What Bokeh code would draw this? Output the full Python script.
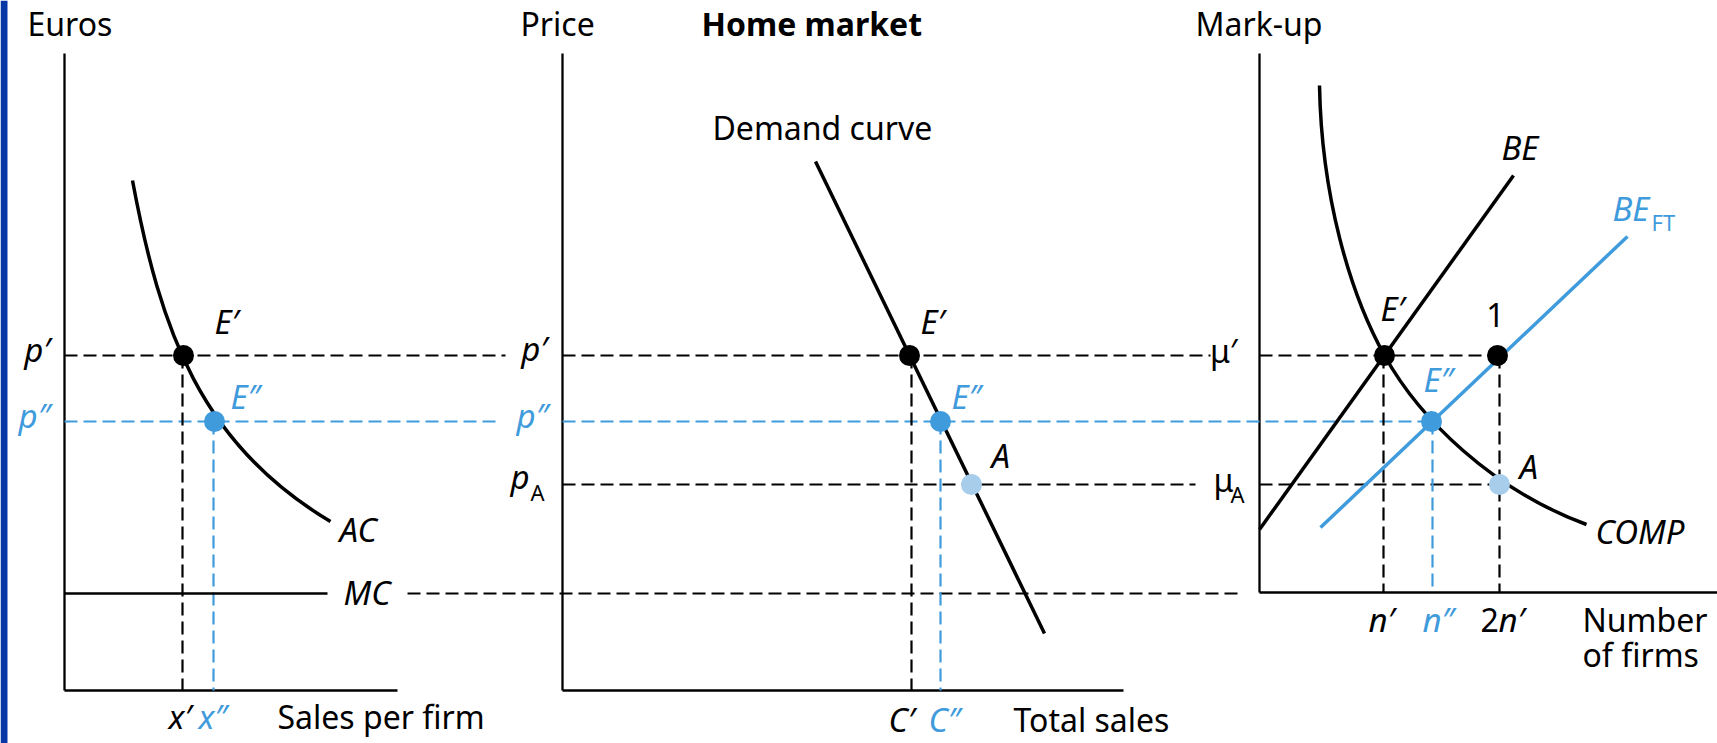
from bokeh.plotting import figure
from bokeh.models import Range1d
from bokeh.core.properties import value
from bokeh.embed import file_html
from bokeh.resources import INLINE

# ---- data (diagram coordinates, y measured downward) ----
# axes: vertical axis x, top, bottom (x-axis level), x-axis right end
axis_x = [64, 562, 1259]
axis_top = [53, 53, 53]
axis_base = [690, 690, 592]
axis_end = [397, 1123, 1717]

# price / mark-up levels
lvl_p1, lvl_p2, lvl_pA, lvl_mc = 355, 421, 484, 593

# horizontal dashed guide lines
hb_x0 = [64, 562, 1259, 562, 1259, 407]
hb_x1 = [505, 1210, 1497, 1195, 1499, 1243]
hb_y = [lvl_p1, lvl_p1, lvl_p1, lvl_pA, lvl_pA, lvl_mc]
hu_x0 = [64, 562]
hu_x1 = [495, 1430]
hu_y = [lvl_p2, lvl_p2]
# vertical dashed guide lines
vb_x = [182, 911, 1383, 1499]
vb_y0 = [lvl_p1, lvl_p1, lvl_p1, lvl_p1]
vb_y1 = [690, 690, 592, 592]
vu_x = [213, 940, 1432]
vu_y0 = [lvl_p2, lvl_p2, lvl_p2]
vu_y1 = [690, 690, 592]

# MC (solid part)
mc_x = [64, 327]
mc_y = [lvl_mc, lvl_mc]

# AC curve (cubic bezier)
ac_pts = [132, 180, 160, 330, 200, 444, 330, 521]
# COMP curve (two cubic beziers)
comp_x0 = [1319, 1384]; comp_y0 = [85, 355]
comp_cx0 = [1321, 1419]; comp_cy0 = [195, 418]
comp_cx1 = [1349, 1491]; comp_cy1 = [292, 489]
comp_x1 = [1384, 1586]; comp_y1 = [355, 524]
# straight curves
demand_x = [815, 1044]; demand_y = [161, 633]
be_x = [1259, 1513]; be_y = [529, 175]
beft_x = [1320, 1627]; beft_y = [527, 236]

# equilibrium points
eq_black_x = [183, 909, 1384, 1497]; eq_black_y = [lvl_p1] * 4
eq_blue_x = [214, 940, 1431]; eq_blue_y = [lvl_p2] * 3
eq_light_x = [971, 1499]; eq_light_y = [lvl_pA] * 2

# texts (x anchor, alphabetic baseline)
reg_text = ["Euros", "Price", "Mark-up", "Demand curve", "Sales per firm",
            "Total sales", "Number", "of firms", "2"]
reg_x = [27, 520, 1195, 712, 277, 1013, 1582, 1582, 1480]
reg_y = [37, 37, 37, 141, 730, 733, 633, 668, 633]

bold_text = ["Home market"]; bold_x = [701]; bold_y = [37]

it_l_text = ["E\u2032", "E\u2032", "E\u2032", "AC", "MC", "A", "A", "BE", "COMP",
             "x\u2032", "C\u2032", "n\u2032", "n\u2032", "p"]
it_l_x = [214, 920, 1380, 339, 343, 991, 1519, 1501, 1595, 168, 888, 1368, 1498, 510]
it_l_y = [335, 335, 322, 543, 606, 469, 480, 161, 545, 730, 733, 633, 633, 490]

it_r_text = ["p\u2032", "p\u2032"]; it_r_x = [50, 547]; it_r_y = [363, 362]

blue_l_text = ["E\u2033", "E\u2033", "E\u2033", "x\u2033", "C\u2033", "n\u2033", "BE"]
blue_l_x = [230, 951, 1423, 198, 928, 1422, 1612]
blue_l_y = [410, 410, 393, 730, 733, 633, 222]

blue_r_text = ["p\u2033", "p\u2033"]; blue_r_x = [50, 548]; blue_r_y = [429, 429]

up_r_text = ["\u03bc\u2032"]; up_r_x = [1237]; up_r_y = [364]
up_l_text = ["\u03bc"]; up_l_x = [1213]; up_l_y = [493]
one_text = ["1"]; one_x = [1495]; one_y = [328]

sub_text = ["A", "A"]; sub_x = [530, 1230]; sub_y = [500, 502]
sub_blue_text = ["FT"]; sub_blue_x = [1651]; sub_blue_y = [230]

bar_x = [0, 7]

# ---- styles ----
BLACK = "#000000"
BLUE = "#3f9bdb"
LIGHT = "#a7cdeb"
BAR = "#0a37a6"
FONT = value("Noto Sans")
FS = 32
FS_IT = 33
FS_SUB = 22
DASH = "13 6"

p = figure(width=1717, height=743, x_range=Range1d(0, 1717), y_range=Range1d(743, 0),
           output_backend="svg", toolbar_location=None, min_border=0,
           styles={"position": "absolute", "left": "0px", "top": "0px"})
p.axis.visible = False
p.grid.visible = False
p.outline_line_color = None
p.background_fill_color = "white"

# left bar
p.quad(left=[bar_x[0]], right=[bar_x[1]], top=[0], bottom=[743], fill_color=BAR, line_color=None)

# axes
p.segment(x0=axis_x, y0=axis_top, x1=axis_x, y1=axis_base, line_color=BLACK, line_width=2.3)
p.segment(x0=axis_x, y0=axis_base, x1=axis_end, y1=axis_base, line_color=BLACK, line_width=2.3)

# guides
p.segment(x0=hb_x0, y0=hb_y, x1=hb_x1, y1=hb_y, line_color=BLACK, line_width=2.2, line_dash=DASH)
p.segment(x0=hu_x0, y0=hu_y, x1=hu_x1, y1=hu_y, line_color=BLUE, line_width=2.2, line_dash=DASH)
p.segment(x0=vb_x, y0=vb_y0, x1=vb_x, y1=vb_y1, line_color=BLACK, line_width=2.2, line_dash=DASH)
p.segment(x0=vu_x, y0=vu_y0, x1=vu_x, y1=vu_y1, line_color=BLUE, line_width=2.2, line_dash=DASH)

# MC
p.line(mc_x, mc_y, line_color=BLACK, line_width=2.3)

# curves
p.bezier(x0=[ac_pts[0]], y0=[ac_pts[1]], cx0=[ac_pts[2]], cy0=[ac_pts[3]],
         cx1=[ac_pts[4]], cy1=[ac_pts[5]], x1=[ac_pts[6]], y1=[ac_pts[7]],
         line_color=BLACK, line_width=3.5)
p.bezier(x0=comp_x0, y0=comp_y0, cx0=comp_cx0, cy0=comp_cy0, cx1=comp_cx1, cy1=comp_cy1,
         x1=comp_x1, y1=comp_y1, line_color=BLACK, line_width=3.5)
p.line(demand_x, demand_y, line_color=BLACK, line_width=3.5)
p.line(be_x, be_y, line_color=BLACK, line_width=3.5)
p.line(beft_x, beft_y, line_color=BLUE, line_width=3.5)

# points
p.scatter(eq_black_x, eq_black_y, size=21, fill_color=BLACK, line_color=None)
p.scatter(eq_blue_x, eq_blue_y, size=21, fill_color=BLUE, line_color=None)
p.scatter(eq_light_x, eq_light_y, size=21, fill_color=LIGHT, line_color=None)

def txt(xs, ys, ts, color=BLACK, style="normal", align="left", size=FS):
    p.text(x=xs, y=ys, text=ts, text_font=FONT, text_font_size=f"{size}px",
           text_font_style=style, text_color=color, text_align=align,
           text_baseline="alphabetic", y_offset=-round(0.43 * size))

txt(reg_x, reg_y, reg_text)
txt(bold_x, bold_y, bold_text, style="bold")
txt(it_l_x, it_l_y, it_l_text, style="italic", size=FS_IT)
txt(it_r_x, it_r_y, it_r_text, style="italic", align="right", size=FS_IT)
txt(blue_l_x, blue_l_y, blue_l_text, color=BLUE, style="italic", size=FS_IT)
txt(blue_r_x, blue_r_y, blue_r_text, color=BLUE, style="italic", align="right", size=FS_IT)
txt(up_r_x, up_r_y, up_r_text, align="right")
txt(up_l_x, up_l_y, up_l_text)
txt(one_x, one_y, one_text, align="center")
txt(sub_x, sub_y, sub_text, size=FS_SUB)
txt(sub_blue_x, sub_blue_y, sub_blue_text, color=BLUE, size=FS_SUB)

open("out.html", "w").write(file_html(p, INLINE))
